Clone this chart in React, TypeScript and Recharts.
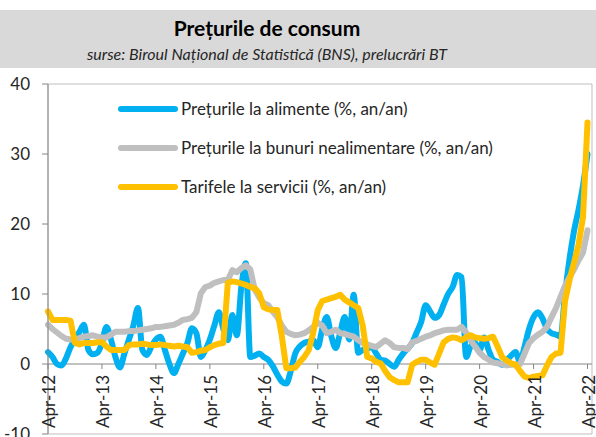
import { Line, LineChart, ReferenceArea, ReferenceLine, XAxis, YAxis } from 'recharts';

// monthly, Apr-12 .. Apr-22 (% y/y)
const food = [
  1.7, 1.0, 0.0, -0.2, 0.8, 2.4, 3.5, 4.6, 5.6, 2.0, 1.4, 1.6,
  3.0, 5.3, 3.5, 1.0, -0.5, 1.5, 3.5, 5.5, 8.0, 2.0, 1.3, 2.5,
  3.5, 3.9, 2.0, 0.0, -1.3, 0.0, 1.5, 3.0, 5.1, 4.4, 1.0, 2.0,
  3.5, 5.5, 7.4, 5.0, 3.4, 7.0, 4.1, 11.0, 14.4, 1.0, 1.2, 1.5,
  1.0, 0.6, -0.3, -1.5, -2.5, -2.8, -1.0, 1.5, 2.5, 3.0, 3.2, 3.4,
  2.4, 5.0, 6.7, 4.0, 2.3, 4.5, 6.7, 3.5, 9.9, 1.6, 2.0, 2.2,
  2.4, 1.5, 0.6, 0.5, 0.0, -0.4, 0.6, 1.5, 2.2, 3.0, 4.5, 6.0,
  8.4, 7.5, 6.6, 7.0, 8.5, 10.0, 11.0, 12.7, 12.4, 1.0, 2.5, 3.0,
  2.0, 3.8, 2.0, 0.6, 0.3, -0.1, 0.5, 1.2, 1.7, 0.3, 2.5, 5.0,
  6.7, 7.4, 6.5, 5.0, 4.4, 4.2, 3.9, 10.0, 15.0, 19.0, 22.0, 25.5,
  30.0,
];

const nonFood = [
  5.6, 5.0, 4.5, 4.0, 3.6, 3.5, 3.5, 3.7, 3.9, 4.0, 4.1, 3.9,
  3.8, 3.8, 4.2, 4.6, 4.6, 4.6, 4.7, 4.7, 4.8, 4.9, 5.0, 5.1,
  5.3, 5.3, 5.4, 5.5, 5.6, 5.9, 6.3, 6.4, 6.6, 7.4, 10.1, 11.0,
  11.2, 11.6, 11.8, 12.0, 12.0, 13.4, 13.1, 13.7, 14.1, 13.5, 10.6, 9.5,
  8.7, 8.4, 7.5, 6.7, 5.5, 4.6, 4.3, 4.1, 4.2, 4.4, 4.8, 5.3,
  5.9, 5.5, 4.4, 4.6, 4.9, 4.4, 4.3, 4.1, 3.9, 3.4, 3.0, 2.8,
  2.6, 2.4, 2.9, 3.4, 3.0, 2.4, 2.3, 2.3, 2.1, 3.1, 3.3, 3.6,
  3.9, 4.1, 4.4, 4.6, 4.8, 4.9, 4.9, 4.9, 5.3, 4.5, 3.4, 2.5,
  1.6, 1.0, 0.6, 0.2, 0.1, 0.0, -0.2, -0.1, -0.1, 0.0, 1.5, 3.0,
  3.7, 4.2, 4.6, 5.3, 6.7, 8.0, 9.6, 11.2, 12.4, 13.5, 14.8, 15.9,
  19.1,
];

const services = [
  7.5, 6.3, 6.3, 6.3, 6.3, 6.2, 3.0, 2.8, 3.0, 3.0, 3.0, 3.1,
  3.1, 2.5, 2.0, 2.0, 2.0, 2.0, 2.7, 2.8, 2.8, 2.9, 2.8, 2.7,
  2.7, 2.8, 2.7, 2.6, 2.5, 2.6, 2.5, 2.4, 1.6, 1.7, 1.9, 2.0,
  2.4, 2.7, 2.9, 3.0, 11.6, 11.8, 11.7, 11.5, 11.3, 11.0, 10.8, 10.1,
  8.1, 7.8, 7.7, 7.7, 4.0, -0.6, -0.6, -0.5, 0.3, 1.0, 2.0, 4.5,
  7.7, 9.0, 9.2, 9.4, 9.6, 9.9, 9.2, 8.8, 8.4, 8.0, 5.5, 1.0,
  0.8, 0.3, 0.1, -1.0, -1.9, -2.3, -2.6, -2.6, -2.6, -0.1, 0.3, 0.6,
  0.6, 0.2, -0.1, 1.5, 3.1, 3.6, 3.8, 3.7, 3.4, 3.8, 4.1, 3.8,
  3.7, 3.6, 3.7, 3.9, 2.5, 1.0, 0.5, 0.1, -0.1, -1.0, -1.8, -2.0,
  -1.8, -1.7, -1.6, -0.2, 1.0, 1.5, 1.6, 9.0, 12.0, 14.5, 17.0, 21.0,
  34.5,
];

const tickLabels = ['Apr-12', 'Apr-13', 'Apr-14', 'Apr-15', 'Apr-16', 'Apr-17', 'Apr-18', 'Apr-19', 'Apr-20', 'Apr-21', 'Apr-22'];
const yTicks = [-10, 0, 10, 20, 30, 40];

const seriesNames = [
  'Prețurile la alimente (%, an/an)',
  'Prețurile la bunuri nealimentare (%, an/an)',
  'Tarifele la servicii (%, an/an)',
];

const COLORS = ['#00B0F0', '#BFBFBF', '#FFC000'];
const FONT = 'Lato, "Open Sans", sans-serif';
const TEXT = '#262626';

const W = 596;
const H = 437;
const MARGIN = { top: 84, right: 4, bottom: 2, left: 0 };
const PLOT_H = H - MARGIN.top - MARGIN.bottom - 1;
const ZERO_Y = MARGIN.top + (40 / 50) * PLOT_H;

const data = food.map((v, i) => ({ i, food: v, nonFood: nonFood[i], services: services[i] }));
const xTicks = tickLabels.map((_, k) => k * 12);

function renderMonthTick(props: any) {
  const { x, payload } = props;
  const label = tickLabels[Math.round(payload.value / 12)];
  return (
    <g transform={`translate(${x},${ZERO_Y})`}>
      <line x1={0} x2={0} y1={0} y2={5} stroke="#868686" />
      <text transform="rotate(-90)" x={-11} y={7} textAnchor="end" fontSize={17} fontFamily={FONT} fill={TEXT}>
        {label}
      </text>
    </g>
  );
}

function LegendBox() {
  return (
    <div style={{ position: 'absolute', left: 118, top: 89, fontFamily: FONT, fontSize: 17, color: TEXT }}>
      {seriesNames.map((name, k) => (
        <div key={name} style={{ display: 'flex', alignItems: 'center', height: 39, whiteSpace: 'nowrap' }}>
          <span
            style={{
              display: 'inline-block',
              width: 60,
              height: 6,
              borderRadius: 3,
              background: COLORS[k],
              marginRight: 3,
            }}
          />
          <span>{name}</span>
        </div>
      ))}
    </div>
  );
}

export default function App() {
  return (
    <div style={{ position: 'absolute', left: 0, top: 0, width: W, height: H, background: '#fff' }}>
      <div style={{ position: 'absolute', left: 0, top: 10, width: W, height: 58, background: '#D9D9D9' }}>
        <div style={{ width: 534, textAlign: 'center', fontFamily: FONT, color: '#000' }}>
          <div style={{ fontSize: 21, fontWeight: 700, lineHeight: '26px', marginTop: 5 }}>Prețurile de consum</div>
          <div style={{ fontSize: 16, fontStyle: 'italic', lineHeight: '22px', marginTop: 2, color: TEXT }}>
            surse: Biroul Național de Statistică (BNS), prelucrări BT
          </div>
        </div>
      </div>
      <div style={{ position: 'absolute', left: 0, top: 0 }}>
        <LineChart width={W} height={H} data={data} margin={MARGIN}>
          <ReferenceArea x1={0} x2={121} y1={-10} y2={40} fill="none" stroke="#BFBFBF" strokeWidth={1} ifOverflow="visible" />
          <XAxis
            type="number"
            dataKey="i"
            domain={[0, 121]}
            ticks={xTicks}
            height={1}
            axisLine={false}
            tickLine={false}
            tick={renderMonthTick}
            interval={0}
          />
          <YAxis
            domain={[-10, 40]}
            ticks={yTicks}
            width={48}
            axisLine={{ stroke: '#868686' }}
            tickLine={{ stroke: '#868686' }}
            tickSize={6}
            tickMargin={12}
            tick={{ fontSize: 17, fontFamily: FONT, fill: TEXT }}
            interval={0}
          />
          <ReferenceLine y={0} stroke="#868686" strokeWidth={1} />
          <Line type="monotone" dataKey="food" stroke={COLORS[0]} strokeWidth={6} dot={false} strokeLinejoin="round" strokeLinecap="round" isAnimationActive={false} />
          <Line type="linear" dataKey="nonFood" stroke={COLORS[1]} strokeWidth={6} dot={false} strokeLinejoin="round" strokeLinecap="round" isAnimationActive={false} />
          <Line type="linear" dataKey="services" stroke={COLORS[2]} strokeWidth={6} dot={false} strokeLinejoin="round" strokeLinecap="round" isAnimationActive={false} />
        </LineChart>
      </div>
      <LegendBox />
    </div>
  );
}
